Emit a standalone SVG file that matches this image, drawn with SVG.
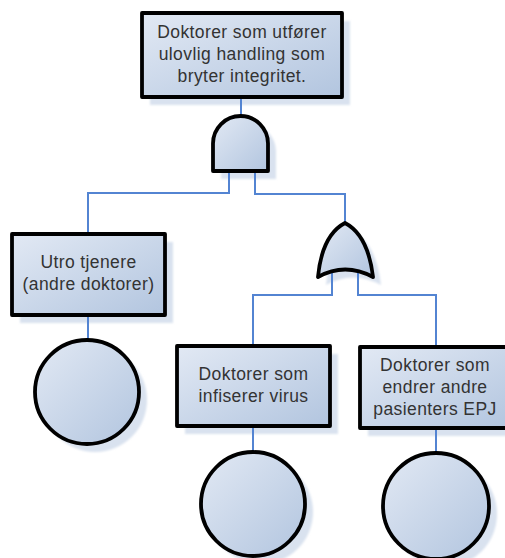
<svg xmlns="http://www.w3.org/2000/svg" width="505" height="558" viewBox="0 0 505 558">
  <defs>
    <linearGradient id="fill" x1="0" y1="0" x2="1" y2="1">
      <stop offset="0" stop-color="#e2e9f4"/>
      <stop offset="1" stop-color="#b2c5df"/>
    </linearGradient>
    <filter id="soft" x="-10%" y="-10%" width="120%" height="120%">
      <feGaussianBlur stdDeviation="1.2"/>
    </filter>
  </defs>
  <style>
    .shadow { fill: #d9e2ef; filter: url(#soft); }
    .shape { fill: url(#fill); stroke: #000; stroke-width: 3.8; stroke-linejoin: round; }
    .label { font-family: "Liberation Sans", Arial, sans-serif; font-size: 17.5px; fill: #333; text-anchor: middle; letter-spacing: 0.4px; }
    .wire { fill: none; stroke: #5384d2; stroke-width: 2; }
  </style>
  <rect width="505" height="558" fill="#fff"/>

  <!-- shadows sit beneath everything -->
  <g id="shadows">
    <rect class="shadow" x="150" y="21" width="200" height="84"/>
    <path class="shadow" d="M221,179 L221,151.5 A27.5,27.5 0 0 1 276,151.5 L276,179 Z"/>
    <path class="shadow" d="M326,285 Q330,243 353,231 Q376,243 381,285 Q353,270 326,285 Z"/>
    <rect class="shadow" x="20" y="242" width="153" height="81"/>
    <circle class="shadow" cx="95" cy="400" r="52"/>
    <rect class="shadow" x="185" y="354" width="153" height="80"/>
    <circle class="shadow" cx="261" cy="512" r="52"/>
    <rect class="shadow" x="368" y="355" width="152" height="81"/>
    <circle class="shadow" cx="444" cy="514" r="53"/>
  </g>

  <g id="connectors">
    <path class="wire" d="M241,97 V116"/>
    <path class="wire" d="M229,171 V193 H88 V234"/>
    <path class="wire" d="M255,171 V194 H345 V223"/>
    <path class="wire" d="M332,272 V295 H253 V346"/>
    <path class="wire" d="M358,272 V295 H436 V347"/>
    <path class="wire" d="M88,315 V340"/>
    <path class="wire" d="M253,426 V452"/>
    <path class="wire" d="M436,428 V453"/>
  </g>

  <g id="top-event">
    <rect class="shape" x="142" y="13" width="200" height="84"/>
    <text class="label" x="242" y="38">Doktorer som utfører</text>
    <text class="label" x="242" y="60">ulovlig handling som</text>
    <text class="label" x="242" y="82">bryter integritet.</text>
  </g>

  <g id="and-gate">
    <path class="shape" d="M213,171 L213,143.5 A27.5,27.5 0 0 1 268,143.5 L268,171 Z"/>
  </g>

  <g id="or-gate">
    <path class="shape" d="M318,277 Q322,235 345,223 Q368,235 373,277 Q345,262 318,277 Z"/>
  </g>

  <g id="utro-tjenere">
    <rect class="shape" x="12" y="234" width="153" height="81"/>
    <text class="label" x="88.5" y="268">Utro tjenere</text>
    <text class="label" x="88.5" y="290">(andre doktorer)</text>
  </g>

  <g id="basic-1">
    <circle class="shape" cx="87" cy="392" r="52"/>
  </g>

  <g id="infiserer-virus">
    <rect class="shape" x="177" y="346" width="153" height="80"/>
    <text class="label" x="253.5" y="380">Doktorer som</text>
    <text class="label" x="253.5" y="402">infiserer virus</text>
  </g>

  <g id="basic-2">
    <circle class="shape" cx="253" cy="504" r="52"/>
  </g>

  <g id="endrer-epj">
    <rect class="shape" x="360" y="347" width="152" height="81"/>
    <text class="label" x="435" y="371">Doktorer som</text>
    <text class="label" x="435" y="393">endrer andre</text>
    <text class="label" x="435" y="415">pasienters EPJ</text>
  </g>

  <g id="basic-3">
    <circle class="shape" cx="436" cy="506" r="53"/>
  </g>
</svg>
